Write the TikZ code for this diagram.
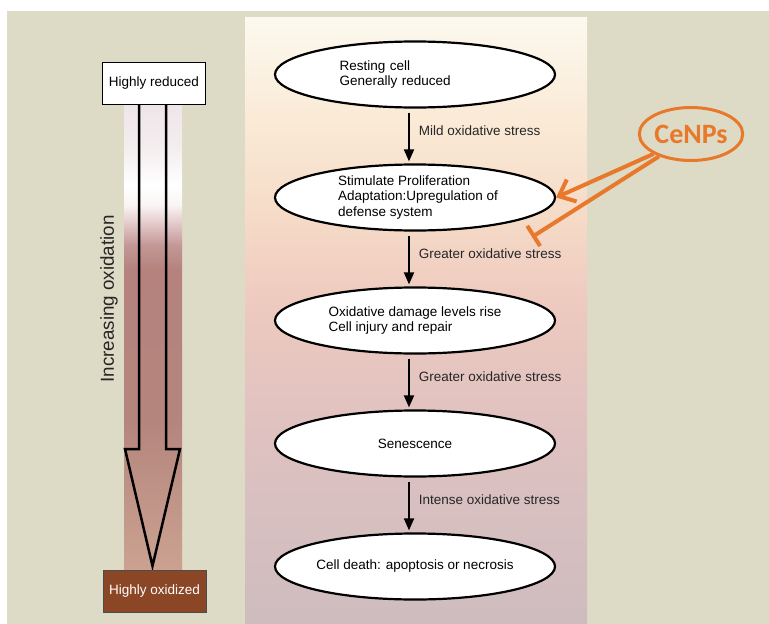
\documentclass[tikz,border=0pt]{standalone}
\usepackage{fontspec}
\setmainfont{Liberation Sans}
\newfontfamily\calibrifont{Carlito}
\usetikzlibrary{arrows.meta,positioning,shapes.geometric}

\definecolor{bgbeige}{HTML}{DDDAC6}
\definecolor{cenporange}{HTML}{E8782A}
\definecolor{oxbrown}{HTML}{8B4626}
\definecolor{labelgray}{HTML}{262626}
% column colours, top to bottom
\definecolor{colA}{HTML}{FCF9EF}
\definecolor{colB}{HTML}{FAEAD6}
\definecolor{colC}{HTML}{F5DAC7}
\definecolor{colD}{HTML}{EECABF}
\definecolor{colE}{HTML}{E0C2C0}
\definecolor{colF}{HTML}{CEBCBF}
% strip colours, top to bottom
\definecolor{strA}{HTML}{EEE5E8}
\definecolor{strB}{HTML}{F4EEEF}
\definecolor{strC}{HTML}{FFFFFF}
\definecolor{strD}{HTML}{FAF5F5}
\definecolor{strE}{HTML}{E5CBCC}
\definecolor{strF}{HTML}{C39795}
\definecolor{strG}{HTML}{B5827D}
\definecolor{strH}{HTML}{B4857D}
\definecolor{strI}{HTML}{CBA291}

\pgfdeclareverticalshading{columnshade}{100bp}{color(0bp)=(colF); color(25bp)=(colF);
  color(41.8bp)=(colE); color(51.7bp)=(colD); color(58.3bp)=(colC);
  color(66.5bp)=(colB); color(75bp)=(colA); color(100bp)=(colA)}
\pgfdeclareverticalshading{stripshade}{100bp}{color(0bp)=(strI); color(25bp)=(strI);
  color(41.1bp)=(strH); color(57.2bp)=(strG); color(59.8bp)=(strF); color(62.3bp)=(strE);
  color(64.2bp)=(strD); color(66.3bp)=(strC); color(70.1bp)=(strB); color(75bp)=(strA);
  color(100bp)=(strA)}

\begin{document}
\begin{tikzpicture}[x=1pt,y=-1pt,>={Triangle[length=12pt,width=10pt]},auto,
                    node distance=123pt]
  \tikzstyle{stage}=[ellipse,draw,fill=white,line width=2.2pt,minimum width=280pt,
                     minimum height=66pt,inner sep=0pt]
  \tikzstyle{stagetext}=[align=left,inner sep=0pt,font=\fontsize{13.5}{15.5}\selectfont]
  \tikzstyle{stress}=[font=\fontsize{13.5}{15.5}\selectfont,text=labelgray,inner sep=9pt,pos=0.4]
  \tikzstyle{levelbox}=[rectangle,draw,line width=1pt,minimum width=103pt,minimum height=42pt,
                        font=\fontsize{13.5}{15.5}\selectfont]
  \tikzstyle{cenp}=[cenporange,line width=4pt]

  \useasboundingbox (0,0) rectangle (769,624);
  \fill[white] (0,0) rectangle (769,624);
  \fill[bgbeige] (7,11) rectangle (769,624);
  \shade[shading=columnshade] (245,17) rectangle (587,624);
  \shade[shading=stripshade] (124,104) rectangle (182,570);

  % redox scale
  \coordinate (arrowtop) at (152.5,104);
  \coordinate (arrowtip) at (152.5,566);
  \draw[line width=2.5pt,line join=miter] (arrowtop) ++(-13.5,0) -- ++(0,345) -- ++(-14,0)
       -- (arrowtip) -- ++(27.5,-117) -- ++(-14,0) -- ++(0,-345);
  \node[levelbox,fill=white] (reduced) at (154,83) {Highly reduced};
  \node[levelbox,fill=oxbrown,text=white,draw=black!70] (oxidized) at (154.5,591) {Highly oxidized};
  \node[rotate=90,text=labelgray,font=\fontsize{18.8}{22}\selectfont] (increasing)
       at (109,299) {Increasing oxidation};

  % stages
  \node[stage] (rest)                        at (415,74.5) {};
  \node[stage] (prolif)    [below of=rest]   {};
  \node[stage] (damage)    [below of=prolif] {};
  \node[stage] (senesc)    [below of=damage] {};
  \node[stage] (death)     [below of=senesc] {};

  \node[stagetext,text width=151pt] (resttext) at (rest) {Resting cell\\Generally reduced};
  \node[stagetext] (prolittext) at ([xshift=3pt]prolif.center)
       {Stimulate Proliferation\\Adaptation:Upregulation of\\defense system};
  \node[stagetext] (damagetext) at (damage) {Oxidative damage levels rise\\Cell injury and repair};
  \node[stagetext] (senesctext) at (senesc) {Senescence};
  \node[stagetext] (deathtext)  at (death)  {Cell death: apoptosis or necrosis};

  \path[->,line width=1.8pt,shorten <=4pt,shorten >=2pt]
        ([xshift=-6pt]rest.south)   edge node[stress] {Mild oxidative stress}    ([xshift=-6pt]prolif.north)
        ([xshift=-6pt]prolif.south) edge node[stress] {Greater oxidative stress} ([xshift=-6pt]damage.north)
        ([xshift=-6pt]damage.south) edge node[stress] {Greater oxidative stress} ([xshift=-6pt]senesc.north)
        ([xshift=-6pt]senesc.south) edge node[stress] {Intense oxidative stress} ([xshift=-6pt]death.north);

  % CeNPs
  \node[ellipse,draw=cenporange,line width=3pt,minimum width=97pt,minimum height=53pt,
        inner sep=0pt,text=cenporange,font=\calibrifont\bfseries\fontsize{28}{30}\selectfont]
        (cenps) at (691,134) {CeNPs};
  \coordinate (block) at (532,237);
  \draw[cenp,-{Straight Barb[length=14pt,width=24pt]}] (cenps.208) -- (prolif.east);
  \draw[cenp,-{Bar[width=24pt]}] (cenps.215) -- (block);
\end{tikzpicture}
\end{document}
